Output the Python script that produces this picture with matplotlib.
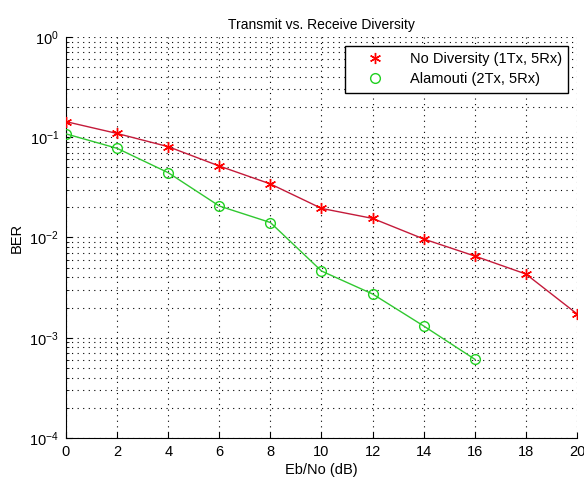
import matplotlib.pyplot as plt
from matplotlib.lines import Line2D

# --- Donnees ---
ebno_db = [0, 2, 4, 6, 8, 10, 12, 14, 16, 18, 20]
ber_nodiv = [0.143, 0.109, 0.0805, 0.0516, 0.0342, 0.0195, 0.0155,
             0.00966, 0.00653, 0.00432, 0.00173]
ebno_alam = [0, 2, 4, 6, 8, 10, 12, 14, 16]
ber_alam = [0.108, 0.0775, 0.0443, 0.0206, 0.0141, 0.00463, 0.00273,
            0.00131, 0.00061]

plt.rcParams["font.family"] = ["Liberation Sans", "DejaVu Sans"]
plt.rcParams["font.size"] = 10.5

etoile = (6, 2, 0)  # asterisque a 6 branches, comme le '*' de MATLAB

fig = plt.figure(figsize=(5.84, 4.80), dpi=100)
ax = fig.add_axes([0.113, 0.0875, 0.875, 0.8355])

ax.semilogy(ebno_db, ber_nodiv, color="#c41a3a", lw=1.0, marker=etoile,
            ms=8, mew=1.0, mec="#ff0000", zorder=3)
ax.semilogy(ebno_alam, ber_alam, color="#30c830", lw=1.0, marker="o",
            ms=7, mfc="none", mec="#20d020", zorder=3)

ax.set_xlim(0, 20)
ax.set_ylim(1e-4, 1)
ax.set_xticks(range(0, 21, 2))
pointille = (0, (1, 4))
ax.grid(True, which="major", linestyle=pointille, color="black", lw=0.8)
ax.grid(True, which="minor", axis="y", linestyle=pointille, color="black", lw=0.8)
ax.tick_params(which="both", direction="in", labelsize=10.5)
ax.tick_params(which="major", length=4, pad=5)
ax.tick_params(which="minor", length=2)
ax.spines["top"].set_visible(False)
ax.spines["right"].set_visible(False)

ax.set_xlabel("Eb/No (dB)", labelpad=3)
ax.set_ylabel("BER")
ax.set_title("Transmit vs. Receive Diversity", fontsize=10)

handles = [
    Line2D([], [], ls="none", marker=etoile, ms=8, mew=1.0, color="#ff0000"),
    Line2D([], [], ls="none", marker="o", ms=7, mfc="none", mec="#20d020"),
]
leg = ax.legend(handles, ["No Diversity (1Tx, 5Rx)", "Alamouti (2Tx, 5Rx)"],
                loc="upper right", fancybox=False, edgecolor="black",
                framealpha=1, borderaxespad=0.6, handlelength=3.2,
                handletextpad=0.8, labelspacing=0.4, borderpad=0.45,
                fontsize=10.5)
leg.get_frame().set_linewidth(1.0)

fig.savefig("out.png", dpi=100)
